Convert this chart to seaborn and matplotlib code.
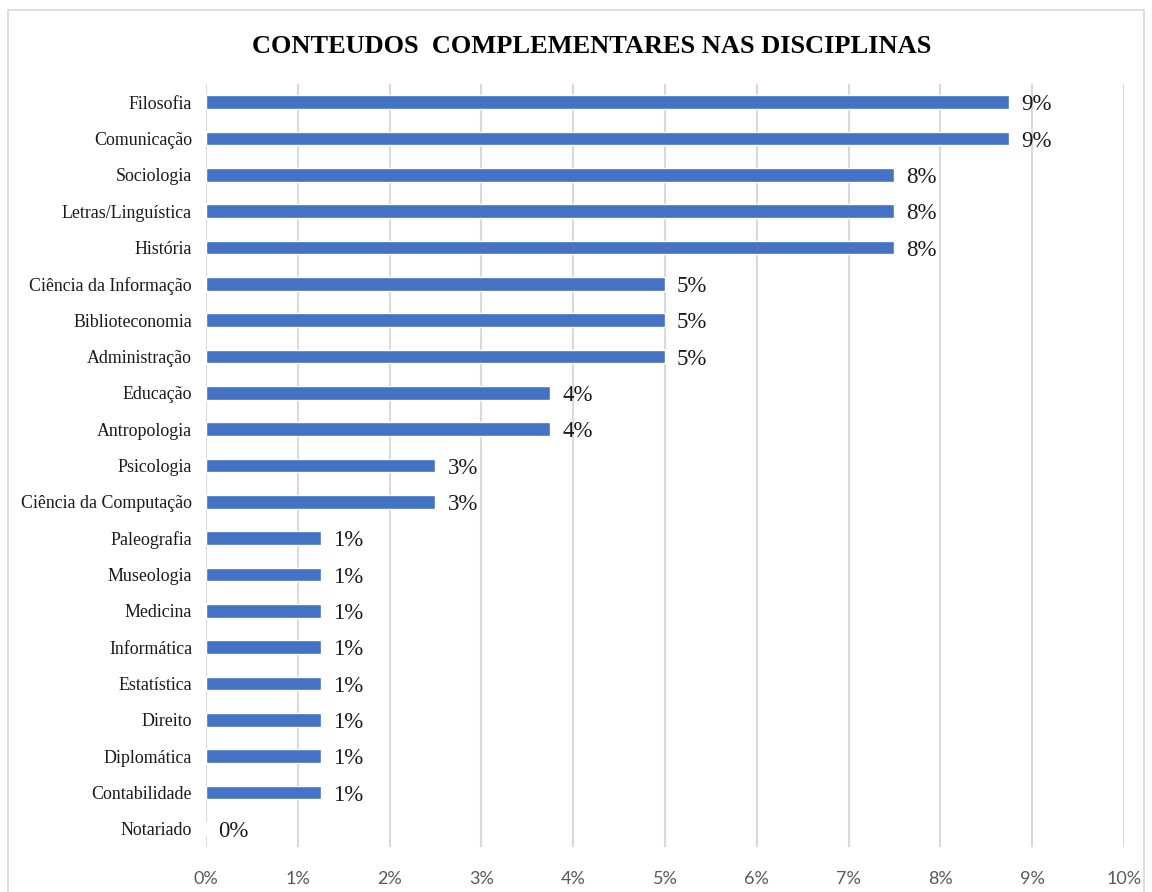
import matplotlib
matplotlib.use("Agg")
import matplotlib.pyplot as plt
import seaborn as sns
import pandas as pd
from matplotlib.patches import Rectangle

categories = ["Filosofia", "Comunicação", "Sociologia", "Letras/Linguística", "História",
              "Ciência da Informação", "Biblioteconomia", "Administração", "Educação",
              "Antropologia", "Psicologia", "Ciência da Computação", "Paleografia",
              "Museologia", "Medicina", "Informática", "Estatística", "Direito",
              "Diplomática", "Contabilidade", "Notariado"]
values = [8.75, 8.75, 7.5, 7.5, 7.5, 5.0, 5.0, 5.0, 3.75, 3.75, 2.5, 2.5,
          1.25, 1.25, 1.25, 1.25, 1.25, 1.25, 1.25, 1.25, 0.0]
value_labels = ["9%", "9%", "8%", "8%", "8%", "5%", "5%", "5%", "4%", "4%", "3%", "3%",
                "1%", "1%", "1%", "1%", "1%", "1%", "1%", "1%", "0%"]
x_ticks = [0, 1, 2, 3, 4, 5, 6, 7, 8, 9, 10]
x_tick_labels = [f"{t}%" for t in x_ticks]
title = "CONTEUDOS  COMPLEMENTARES NAS DISCIPLINAS"

df = pd.DataFrame({"cat": categories, "val": values})

sns.set_theme(style="white")
plt.rcParams["font.family"] = ["Liberation Serif", "DejaVu Serif"]

fig = plt.figure(figsize=(11.52, 8.92), dpi=100)
ax = fig.add_axes([0.1788, 0.0504, 0.9757 - 0.1788, 0.9058 - 0.0504])

sns.barplot(data=df, x="val", y="cat", color="#4472C4", width=0.37, ax=ax,
            saturation=1, orient="h", zorder=3)

ax.set_xlim(0, 10)
ax.set_ylim(len(categories) - 0.5, -0.5)
ax.set_xticks(x_ticks)
ax.set_xticklabels(x_tick_labels, fontfamily="Lato", fontsize=13, color="#595959")
ax.tick_params(axis="x", length=0, pad=17)
ax.tick_params(axis="y", length=0, pad=10, labelsize=12.9)
for lab in ax.get_yticklabels():
    lab.set_color("#1a1a1a")
ax.set_xlabel("")
ax.set_ylabel("")
for s in ax.spines.values():
    s.set_visible(False)
ax.grid(axis="x", color="#D9D9D9", linewidth=1.5, zorder=0)
ax.grid(axis="y", visible=False)

for i, (v, lab) in enumerate(zip(values, value_labels)):
    ax.text(v + 0.13, i, lab, va="center_baseline", ha="left", fontsize=16.5,
            color="#1a1a1a")

fig.text(0.514, 0.948, title, ha="center", va="center", fontsize=19, fontweight="bold",
         color="#000000")

fig.patches.append(Rectangle((8 / 1152, -0.01), 1 - 16 / 1152, 1 - 10 / 892 + 0.01,
                             transform=fig.transFigure, fill=False,
                             edgecolor="#D9D9D9", linewidth=1.2))

fig.savefig("out.png", dpi=100)
